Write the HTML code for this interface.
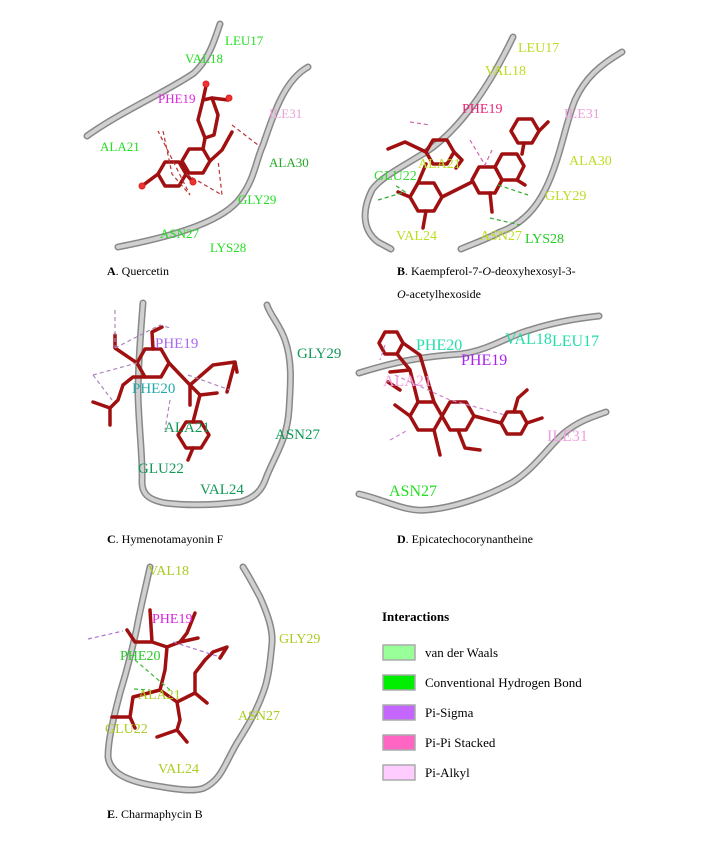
<!DOCTYPE html>
<html><head><meta charset="utf-8"><style>
body{margin:0;background:#fff;}
svg{display:block;font-family:"Liberation Serif",serif;}
</style></head><body>
<svg width="706" height="847" viewBox="0 0 706 847">
<g fill="none" stroke-linecap="round" stroke-linejoin="round">
<g stroke="#888" stroke-width="7">
<path id="r1" d="M87,136 C120,112 170,90 194,73 C210,58 215,38 220,24"/>
<path id="r2" d="M118,247 C180,235 225,220 241,197 C255,178 256,160 263,145 C275,110 285,80 308,67"/>
<path id="r3" d="M513,37 C490,85 460,130 426,152 C400,168 380,178 372,190 C362,210 362,230 378,242 L391,249"/>
<path id="r4" d="M622,52 C600,65 585,78 575,100 C565,125 560,160 545,190 C535,210 520,225 500,232 C485,240 470,245 461,249"/>
<path id="r5" d="M143,303 C140,340 138,370 138,395 C139,430 143,460 142,482 C142,495 150,500 165,503 C190,506 215,505 240,502 C255,498 262,490 266,478 C275,455 287,440 289,410 C291,380 292,360 285,340 C280,325 270,315 267,305"/>
<path id="r6" d="M359,373 C400,360 430,356 461,354 C490,350 510,335 530,330 C555,322 580,318 599,316"/>
<path id="r7" d="M359,494 C385,500 405,512 426,510 C455,508 490,495 513,482 C535,468 550,445 564,433 C580,420 595,416 606,412"/>
<path id="r8" d="M150,567 C145,590 140,610 137,627 C130,660 124,680 120,693 C113,720 108,740 108,757 C110,772 125,782 163,787 C175,789 185,790 190,790"/>
<path id="r9" d="M243,567 C250,578 255,588 260,597 C268,615 273,630 272,643 C270,665 268,680 263,693 C255,715 245,730 237,743 C228,758 222,775 213,782 C205,789 200,790 190,790"/>
</g>
<g stroke="#d0d0d0" stroke-width="4">
<use href="#r1"/><use href="#r2"/><use href="#r3"/><use href="#r4"/><use href="#r5"/><use href="#r6"/><use href="#r7"/><use href="#r8"/><use href="#r9"/>
</g>
</g>
<!-- molecules -->
<g fill="none" stroke="#a01010" stroke-width="3.5" stroke-linejoin="round" stroke-linecap="round">
<!-- A -->
<polygon points="158,174 165,162 179,162 186,174 179,186 165,186"/>
<polygon points="182,161 189,149 203,149 210,161 203,173 189,173"/>
<polygon points="205,138 198,120 203,100 212,98 218,115 214,135"/>
<path d="M205,138 L203,149 M203,100 L206,86 M212,98 L228,100 M158,174 L142,186 M210,161 L222,150 L232,132 M186,174 L193,182"/>
<!-- B -->
<polygon points="410,197 418,183 434,183 442,197 434,211 418,211"/>
<polygon points="426,152 433,140 447,140 454,152 447,164 433,164"/>
<polygon points="472,180 479,167 495,167 502,180 495,193 479,193"/>
<polygon points="502,180 495,167 502,154 517,154 524,166 517,180"/>
<polygon points="511,131 518,119 532,119 539,131 532,143 518,143"/>
<path d="M442,197 L472,182 M418,183 L426,164 M426,211 L423,228 M410,197 L398,192 M388,149 L405,142 L426,152 M454,152 L462,160 L456,168 M524,143 L522,154 M539,131 L548,122 M490,193 L492,212 M517,180 L525,185"/>
<!-- C -->
<polygon points="137,363 145,349 161,349 169,363 161,377 145,377"/>
<polygon points="178,435 186,422 201,422 209,435 201,448 186,448"/>
<path d="M137,363 L115,348 L115,335 M153,349 L152,332 L162,327 M145,377 L133,377 L123,385 L118,400 L110,408 M110,408 L93,402 M110,408 L110,425 M169,363 L190,385 L200,395 L217,393 M190,385 L190,405 M200,395 L193,422 M193,448 L188,460 M190,385 L213,365 L235,362 M235,362 L227,392 M235,362 L237,372"/>
<!-- D -->
<polygon points="379,343 385,332 397,332 403,343 397,354 385,354"/>
<polygon points="410,416 418,402 434,402 442,416 434,430 418,430"/>
<polygon points="442,416 450,402 466,402 474,416 466,430 450,430"/>
<polygon points="501,423 507,412 521,412 527,423 521,434 507,434"/>
<path d="M397,354 L410,370 L418,402 M403,343 L420,355 L434,402 M474,416 L501,423 M514,412 L518,398 L527,390 M527,423 L542,418 M434,430 L440,455 M458,430 L465,448 L480,450 M410,416 L395,405 M400,390 L388,382 M410,370 L390,372"/>
<!-- E -->
<path d="M127,630 L135,642 L152,642 L167,647 L180,642 L187,633 L195,613 M180,642 L198,638 M167,647 L165,670 L160,690 L177,702 L180,720 L177,730 L157,737 M177,730 L187,742 M177,702 L195,693 L207,703 M195,693 L195,673 L205,660 L213,652 L227,647 L220,658 M160,690 L133,697 L130,717 L112,717 M130,717 L135,728 M150,610 L152,642"/>
</g>
<g fill="none" stroke-width="1.2" stroke-dasharray="4,3">
<path d="M163,131 L172,174 L190,195 L158,131 M232,125 L258,145 M186,174 L222,195 L218,160" stroke="#b33"/>
<path d="M378,200 L405,192 L395,185 M498,185 L528,195 M490,218 L520,225" stroke="#3a3"/>
<path d="M470,140 L485,165 L492,150 M410,122 L430,125" stroke="#c6a"/>
<path d="M115,310 L115,348 M115,348 L160,325 L170,328 M93,375 L137,363 M93,375 L112,400 M188,375 L230,390 M170,400 L165,430" stroke="#a8b"/>
<path d="M395,375 L450,400 L505,415 M390,440 L408,430 M385,345 L380,360" stroke="#c8c"/>
<path d="M88,639 L123,631 M173,642 L220,657" stroke="#a7c"/>
<path d="M135,660 L170,690 M134,689 L150,690" stroke="#3b3"/>
</g>
<g fill="#e33" stroke="#d22" stroke-width="1">
<circle cx="142" cy="186" r="3"/><circle cx="206" cy="84" r="3"/><circle cx="229" cy="98" r="3"/><circle cx="193" cy="182" r="3"/>
</g>
<!-- labels -->
<g font-size="13" fill="#22dd22">
<text x="225" y="45">LEU17</text><text x="185" y="63">VAL18</text>
<text x="158" y="103" fill="#dd22dd">PHE19</text><text x="269" y="118" fill="#e8a0d8">ILE31</text>
<text x="100" y="151">ALA21</text><text x="269" y="167" fill="#22aa22">ALA30</text>
<text x="238" y="204">GLY29</text><text x="160" y="238">ASN27</text><text x="210" y="252">LYS28</text>
</g>
<g font-size="14" fill="#bbdd22">
<text x="518" y="52">LEU17</text><text x="485" y="75">VAL18</text>
<text x="462" y="113" fill="#ee2277">PHE19</text><text x="564" y="118" fill="#e8a0d8">ILE31</text>
<text x="569" y="165">ALA30</text><text x="545" y="200">GLY29</text>
<text x="374" y="180" fill="#33dd33">GLU22</text><text x="418" y="168">ALA21</text><text x="396" y="240">VAL24</text>
<text x="480" y="240">ASN27</text><text x="525" y="243" fill="#22cc22">LYS28</text>
</g>
<g font-size="15" fill="#119955">
<text x="297" y="358">GLY29</text><text x="155" y="348" fill="#aa66ee">PHE19</text>
<text x="132" y="393" fill="#22aaaa">PHE20</text><text x="164" y="432">ALA21</text>
<text x="275" y="439">ASN27</text><text x="138" y="473">GLU22</text><text x="200" y="494">VAL24</text>
</g>
<g font-size="16" fill="#22ddaa">
<text x="416" y="350">PHE20</text><text x="505" y="344">VAL18</text><text x="552" y="346">LEU17</text>
<text x="461" y="365" fill="#aa22ee">PHE19</text>
<text x="383" y="386" fill="#f0a0e0">ALA21</text><text x="547" y="441" fill="#f0a0e0">ILE31</text>
<text x="389" y="496" fill="#22dd22">ASN27</text>
</g>
<g font-size="14" fill="#aacc22">
<text x="148" y="575">VAL18</text><text x="152" y="623" fill="#dd22dd">PHE19</text>
<text x="279" y="643">GLY29</text><text x="120" y="660" fill="#22cc22">PHE20</text><text x="138" y="699">ALA21</text>
<text x="238" y="720">ASN27</text><text x="105" y="733">GLU22</text><text x="158" y="773">VAL24</text>
</g>
<!-- captions -->
<g font-size="12" fill="#000">
<text x="107" y="275"><tspan font-weight="bold">A</tspan>. Quercetin</text>
<text x="397" y="275"><tspan font-weight="bold">B</tspan>. Kaempferol-7-<tspan font-style="italic">O</tspan>-deoxyhexosyl-3-</text>
<text x="397" y="298"><tspan font-style="italic">O</tspan>-acetylhexoside</text>
<text x="107" y="543"><tspan font-weight="bold">C</tspan>. Hymenotamayonin F</text>
<text x="397" y="543"><tspan font-weight="bold">D</tspan>. Epicatechocorynantheine</text>
<text x="107" y="818"><tspan font-weight="bold">E</tspan>. Charmaphycin B</text>
</g>
<!-- legend -->
<g font-size="13">
<text x="382" y="621" font-weight="bold">Interactions</text>
<rect x="383" y="645" width="32" height="15" fill="#99ff99" stroke="#aaa" stroke-width="1.5"/><text x="425" y="657">van der Waals</text>
<rect x="383" y="675" width="32" height="15" fill="#00ee00" stroke="#aaa" stroke-width="1.5"/><text x="425" y="687">Conventional Hydrogen Bond</text>
<rect x="383" y="705" width="32" height="15" fill="#c466ff" stroke="#aaa" stroke-width="1.5"/><text x="425" y="717">Pi-Sigma</text>
<rect x="383" y="735" width="32" height="15" fill="#ff66c4" stroke="#aaa" stroke-width="1.5"/><text x="425" y="747">Pi-Pi Stacked</text>
<rect x="383" y="765" width="32" height="15" fill="#ffccff" stroke="#aaa" stroke-width="1.5"/><text x="425" y="777">Pi-Alkyl</text>
</g>
</svg>
</body></html>
